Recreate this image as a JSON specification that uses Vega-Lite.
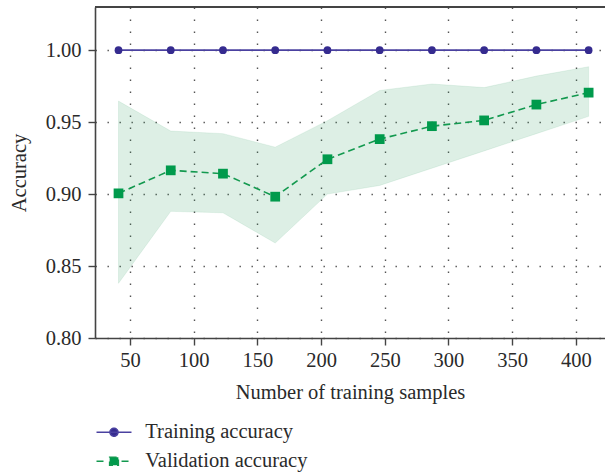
{
  "$schema": "https://vega.github.io/schema/vega-lite/v6.json",
  "width": 510,
  "height": 331,
  "autosize": {"type": "none"},
  "padding": {"left": 95, "top": 7, "right": 0, "bottom": 135},
  "config": {
    "view": {"stroke": null},
    "font": "Liberation Serif",
    "axis": {
      "labelFont": "Liberation Serif",
      "titleFont": "Liberation Serif",
      "labelFontSize": 20.5,
      "titleFontSize": 20.5,
      "titleFontWeight": "normal",
      "labelColor": "#2a2a2a",
      "titleColor": "#2a2a2a",
      "domainColor": "#444444",
      "domainWidth": 1.6,
      "tickColor": "#444444",
      "tickWidth": 1.4,
      "tickSize": 7,
      "grid": true,
      "gridColor": "#555555",
      "gridWidth": 1.4,
      "gridDash": [1.4, 10.6]
    }
  },
  "data": {
    "values": [
      {"n": 41, "series": "Training accuracy", "acc": 1.0},
      {"n": 82, "series": "Training accuracy", "acc": 1.0},
      {"n": 123, "series": "Training accuracy", "acc": 1.0},
      {"n": 164, "series": "Training accuracy", "acc": 1.0},
      {"n": 205, "series": "Training accuracy", "acc": 1.0},
      {"n": 246, "series": "Training accuracy", "acc": 1.0},
      {"n": 287, "series": "Training accuracy", "acc": 1.0},
      {"n": 328, "series": "Training accuracy", "acc": 1.0},
      {"n": 369, "series": "Training accuracy", "acc": 1.0},
      {"n": 410, "series": "Training accuracy", "acc": 1.0},
      {"n": 41, "series": "Validation accuracy", "acc": 0.9005, "lo": 0.838, "hi": 0.9646},
      {"n": 82, "series": "Validation accuracy", "acc": 0.9165, "lo": 0.888, "hi": 0.9438},
      {"n": 123, "series": "Validation accuracy", "acc": 0.9142, "lo": 0.887, "hi": 0.9420},
      {"n": 164, "series": "Validation accuracy", "acc": 0.8982, "lo": 0.866, "hi": 0.9326},
      {"n": 205, "series": "Validation accuracy", "acc": 0.9242, "lo": 0.900, "hi": 0.9510},
      {"n": 246, "series": "Validation accuracy", "acc": 0.9382, "lo": 0.906, "hi": 0.9720},
      {"n": 287, "series": "Validation accuracy", "acc": 0.9472, "lo": 0.918, "hi": 0.9765},
      {"n": 328, "series": "Validation accuracy", "acc": 0.9512, "lo": 0.930, "hi": 0.9740},
      {"n": 369, "series": "Validation accuracy", "acc": 0.9622, "lo": 0.942, "hi": 0.9820},
      {"n": 410, "series": "Validation accuracy", "acc": 0.9705, "lo": 0.954, "hi": 0.9885}
    ]
  },
  "layer": [
    {
      "transform": [{"filter": "datum.series === 'Validation accuracy'"}],
      "mark": {"type": "area", "color": "#2e9e5e", "fillOpacity": 0.16, "stroke": "#2e9e5e", "strokeOpacity": 0.1, "strokeWidth": 1},
      "encoding": {
        "x": {
          "field": "n",
          "type": "quantitative",
          "scale": {"domain": [22.55, 422.85], "nice": false, "zero": false},
          "axis": {"values": [50, 100, 150, 200, 250, 300, 350, 400], "labelPadding": 5, "titlePadding": 12, "title": "Number of training samples"}
        },
        "y": {
          "field": "lo",
          "type": "quantitative",
          "scale": {"domain": [0.8, 1.03], "nice": false, "zero": false},
          "axis": {"values": [0.8, 0.85, 0.9, 0.95, 1.0], "format": ".2f", "labelPadding": 7, "titlePadding": 16, "title": "Accuracy"}
        },
        "y2": {"field": "hi"}
      }
    },
    {
      "mark": {"type": "line", "strokeWidth": 1.6},
      "encoding": {
        "x": {"field": "n", "type": "quantitative"},
        "y": {"field": "acc", "type": "quantitative"},
        "color": {
          "field": "series",
          "type": "nominal",
          "scale": {"domain": ["Training accuracy", "Validation accuracy"], "range": ["#4a41a0", "#13994f"]},
          "legend": {
            "orient": "none",
            "legendX": 8.75,
            "legendY": 415,
            "title": null,
            "padding": 0,
            "labelFont": "Liberation Serif",
            "labelFontSize": 20.5,
            "labelColor": "#2a2a2a",
            "labelLimit": 400,
            "labelOffset": 21,
            "rowPadding": 8,
            "symbolSize": 306,
            "symbolStrokeWidth": 1.5,
            "encode": {
              "symbols": {
                "update": {
                  "shape": {"signal": "datum.value === 'Training accuracy' ? 'M-2,0H2M-0.46,0A0.46,0.46,0,1,0,0.46,0A0.46,0.46,0,1,0,-0.46,0Z' : 'M-2,0H-0.86M0.86,0H2M-0.5,-0.45H0.5V0.45H-0.5Z'"},
                  "fill": {"signal": "datum.value === 'Training accuracy' ? '#352b8f' : '#009a4c'"},
                  "stroke": {"signal": "datum.value === 'Training accuracy' ? '#4a41a0' : '#13994f'"},
                  "strokeWidth": {"value": 1.5},
                  "opacity": {"value": 1},
                  "fillOpacity": {"value": 1},
                  "strokeDash": {"value": []}
                }
              }
            }
          }
        },
        "strokeDash": {
          "field": "series",
          "type": "nominal",
          "scale": {"domain": ["Training accuracy", "Validation accuracy"], "range": [[1, 0], [7, 4]]},
          "legend": null
        }
      }
    },
    {
      "transform": [{"filter": "datum.series === 'Training accuracy'"}],
      "mark": {"type": "point", "shape": "circle", "filled": true, "color": "#352b8f", "opacity": 1, "size": 60},
      "encoding": {"x": {"field": "n", "type": "quantitative"}, "y": {"field": "acc", "type": "quantitative"}}
    },
    {
      "transform": [{"filter": "datum.series === 'Validation accuracy'"}],
      "mark": {"type": "point", "shape": "square", "filled": true, "color": "#009a4c", "opacity": 1, "size": 95},
      "encoding": {"x": {"field": "n", "type": "quantitative"}, "y": {"field": "acc", "type": "quantitative"}}
    },
    {
      "mark": {"type": "rule", "color": "#444444", "strokeWidth": 1.6},
      "encoding": {"y": {"datum": 1.03}}
    }
  ]
}
